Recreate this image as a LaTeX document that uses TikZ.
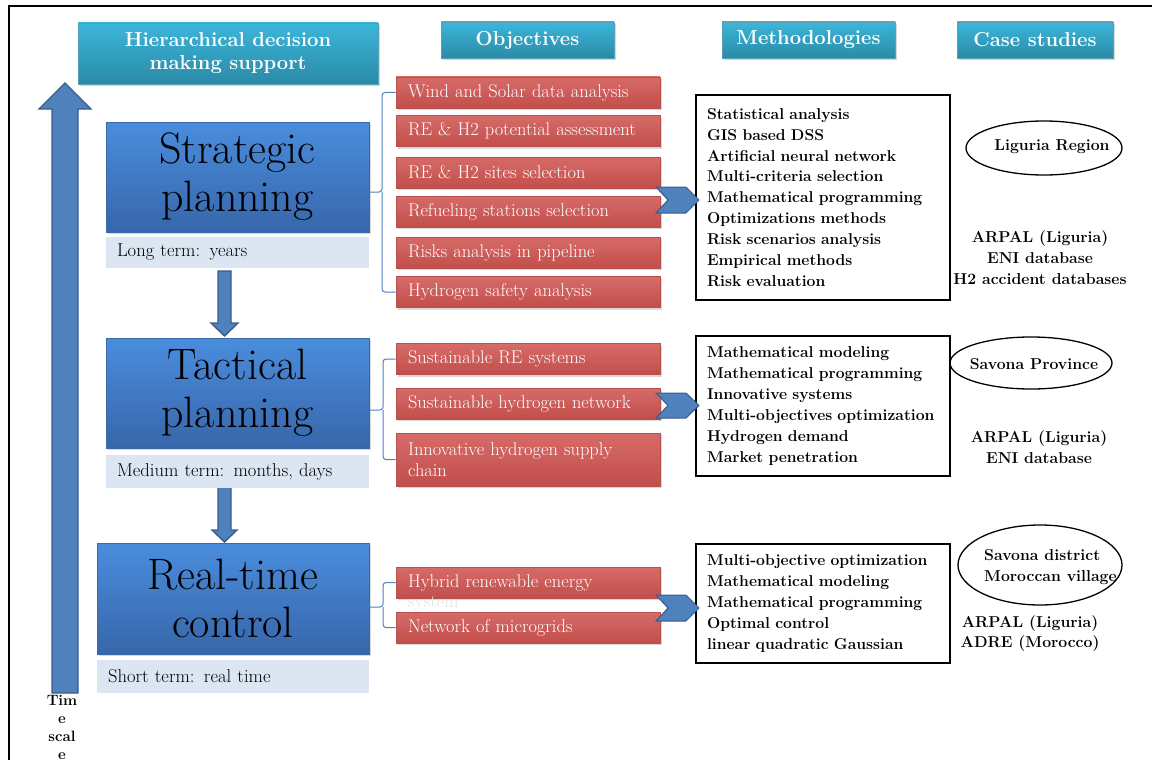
\documentclass[tikz,border=0pt]{standalone}
\usetikzlibrary{shapes.geometric,shadows}
\definecolor{tealtop}{HTML}{3CB6DB}
\definecolor{tealbot}{HTML}{2A8AA6}
\definecolor{bluetop}{HTML}{4A8DDD}
\definecolor{bluebot}{HTML}{3766AA}
\definecolor{blueedge}{HTML}{3A68A8}
\definecolor{redtop}{HTML}{D66B68}
\definecolor{redbot}{HTML}{C24E4B}
\definecolor{rededge}{HTML}{B8504D}
\definecolor{capfill}{HTML}{DCE6F2}
\definecolor{arrfill}{HTML}{4F81BD}
\definecolor{arredge}{HTML}{385D8A}
\definecolor{faint}{HTML}{E4E4E4}
\begin{document}
\begin{tikzpicture}[x=1pt,y=-1pt,
  hdr/.style={top color=tealtop, bottom color=tealbot, draw=tealbot!80!white, line width=0.4pt,
    drop shadow={opacity=0.3, shadow xshift=1.5pt, shadow yshift=-2pt},
    text=white, font=\bfseries\fontsize{20.2}{23}\selectfont, align=center, inner sep=0pt},
  lvl/.style={top color=bluetop, bottom color=bluebot, draw=blueedge, line width=0.8pt,
    drop shadow={opacity=0.3, shadow xshift=1.5pt, shadow yshift=-2pt},
    text=black, font=\fontsize{44}{48}\selectfont, align=center, inner sep=0pt},
  capbox/.style={fill=capfill, inner xsep=11pt, inner ysep=0pt, align=left,
    font=\fontsize{18.6}{21}\selectfont, text=black},
  obj/.style={top color=redtop, bottom color=redbot, draw=rededge, line width=0.6pt,
    drop shadow={opacity=0.3, shadow xshift=1.5pt, shadow yshift=-2pt},
    minimum width=264pt, text width=240pt, inner xsep=12pt, inner ysep=0pt, minimum height=31pt,
    align=left, text=white, font=\fontsize{18.4}{21}\selectfont},
  meth/.style={draw=black, line width=1.5pt, fill=white, minimum width=254pt, text width=232pt,
    inner xsep=11pt, inner ysep=0pt, align=left, font=\bfseries\fontsize{15.7}{20.9}\selectfont},
  ell/.style={ellipse, draw=black, line width=1.3pt, inner sep=0pt},
  case/.style={align=center, font=\bfseries\fontsize{15.8}{20.8}\selectfont, inner sep=0pt},
  brk/.style={draw=arrfill, line width=1pt, rounded corners=3pt},
  fat/.style={fill=arrfill, draw=arredge, line width=1.4pt, line join=miter},
  chev/.style={fill=arrfill, draw=arredge, line width=1pt, line join=miter}
]
\useasboundingbox (0,0) rectangle (1157,760);
\fill[white] (0,0) rectangle (1157,760);
% frame
\draw[line width=2pt] (9,762) -- (9,6) -- (1152,6);

% headers
\node[hdr, minimum width=300pt, minimum height=61pt] (hdm) at (228,53.5) {Hierarchical decision\\making support};
\node[hdr, minimum width=173pt, minimum height=36pt] (hob) at (527.5,40) {Objectives};
\node[hdr, minimum width=173pt, minimum height=36pt] (hme) at (808.5,40) {Methodologies};
\node[hdr, minimum width=156pt, minimum height=36pt] (hcs) at (1035,40) {Case studies};

% time scale arrow
\filldraw[fat] (52,693) -- (52,109) -- (39,109) -- (65,83) -- (91,109) -- (78,109) -- (78,693) -- cycle;
\node[font=\bfseries\fontsize{15}{18}\selectfont, align=center, inner sep=0pt] (tsc) at (62,727) {Tim\\e\\scal\\e};

% down arrows
\filldraw[fat] (218,271) -- (231,271) -- (231,323) -- (238,323) -- (224.5,336) -- (211,323) -- (218,323) -- cycle;
\filldraw[fat] (218,485) -- (231,485) -- (231,530) -- (237,530) -- (224.5,542) -- (212,530) -- (218,530) -- cycle;

% level boxes
\node[lvl, minimum width=263pt, minimum height=110pt] (strat) at (237.5,177) {Strategic\\planning};
\node[capbox, minimum width=263pt, minimum height=31pt, text width=241pt] (cap1) at (237.5,252.5) {Long term: years};
\node[lvl, minimum width=263pt, minimum height=110pt] (tact) at (237.5,393) {Tactical\\planning};
\node[capbox, minimum width=263pt, minimum height=33pt, text width=241pt] (cap2) at (237.5,471.5) {Medium term: months, days};
\node[lvl, minimum width=272pt, minimum height=111pt] (rt) at (233,598.5) {Real-time\\control};
\node[capbox, minimum width=272pt, minimum height=33pt, text width=250pt] (cap3) at (233,676) {Short term: real time};

% objectives - strategic
\node[obj] (o1) at (528,92.5) {Wind and Solar data analysis};
\node[obj] (o2) at (528,131) {RE \& H2 potential assessment};
\node[obj] (o3) at (528,172.5) {RE \& H2 sites selection};
\node[obj] (o4) at (528,211.5) {Refueling stations selection};
\node[obj] (o5) at (528,252.5) {Risks analysis in pipeline};
\node[obj] (o6) at (528,292) {Hydrogen safety analysis};
% objectives - tactical
\node[obj] (t1) at (528,359) {Sustainable RE systems};
\node[obj] (t2) at (528,403.5) {Sustainable hydrogen network};
\node[obj, minimum height=53pt] (t3) at (528,459.5) {Innovative hydrogen supply\\chain};
% objectives - real time
\node[obj] (r1) at (528,582.5) {Hybrid renewable energy};
\node[anchor=west, inner sep=0pt, text=faint, font=\fontsize{18.4}{21}\selectfont] (r1b) at (408,604) {system};
\node[obj] (r2) at (528,627.5) {Network of microgrids};

% brackets
\coordinate (sb) at (382,192);
\draw[brk] (o1.west) -| (sb) -- (sb -| strat.east);
\draw[brk] (o6.west) -| (sb);
\coordinate (tb) at (383,410);
\draw[brk] (t1.west) -| (tb) -- (tb -| tact.east);
\draw[brk] (t3.west) -| (tb);
\coordinate (rb) at (383,607);
\draw[brk] (r1.west) -| (rb) -- (rb -| rt.east);
\draw[brk] (r2.west) -| (rb);

% methodology boxes
\node[meth, minimum height=205pt] (m1) at (823,197.5) {Statistical analysis\\GIS based DSS\\Artificial neural network\\Multi-criteria selection\\Mathematical programming\\Optimizations methods\\Risk scenarios analysis\\Empirical methods\\Risk evaluation};
\node[meth, minimum height=140pt] (m2) at (823,406) {Mathematical modeling\\Mathematical programming\\Innovative systems\\Multi-objectives optimization\\Hydrogen demand\\Market penetration};
\node[meth, minimum height=119pt] (m3) at (823,603.5) {Multi-objective optimization\\Mathematical modeling\\Mathematical programming\\Optimal control\\linear quadratic Gaussian};

% chevrons
\filldraw[chev] (656,187) -- (686,187) -- (699,200) -- (686,213) -- (656,213) -- (668,200) -- cycle;
\filldraw[chev] (656,393) -- (686,393) -- (699,405.5) -- (686,418) -- (656,418) -- (668,405.5) -- cycle;
\filldraw[chev] (656,595) -- (686,595) -- (699,608) -- (686,621) -- (656,621) -- (668,608) -- cycle;

% case studies
\node[ell, minimum width=156pt, minimum height=54pt] (e1) at (1044,148) {};
\node[case] (e1t) at (1052,147) {Liguria Region};
\node[case] (c1) at (1040,257.5) {ARPAL (Liguria)\\ENI database\\H2 accident databases};
\node[ell, minimum width=162pt, minimum height=52pt] (e2) at (1031,363) {};
\node[case] (e2t) at (1034,364) {Savona Province};
\node[case] (c2) at (1039,447) {ARPAL (Liguria)\\ENI database};
\node[ell, minimum width=164pt, minimum height=80pt] (e3) at (1040,565) {};
\node[case, align=left, anchor=west] (e3t) at (984,567) {Savona district\\Moroccan village};
\node[case] (c3) at (1030,633.5) {ARPAL (Liguria)\\ADRE (Morocco)};
\end{tikzpicture}
\end{document}
